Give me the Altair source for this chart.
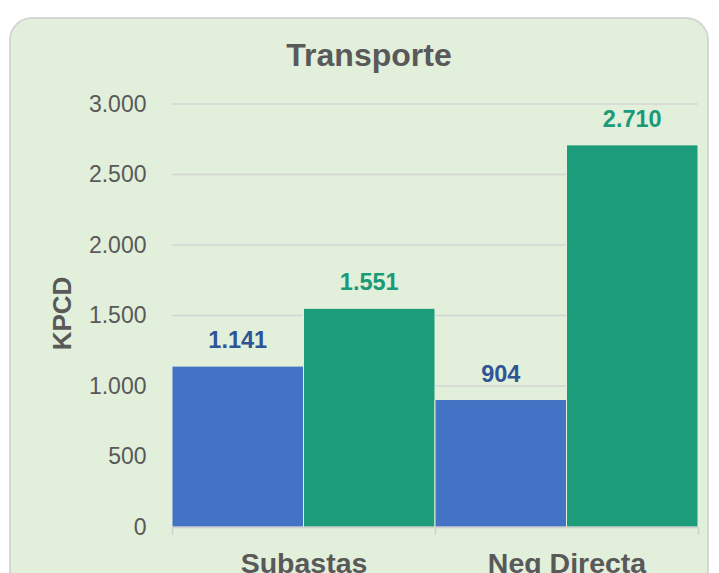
import altair as alt
import pandas as pd

categories = ["Subastas", "Neg Directa"]
series = ["Serie 1", "Serie 2"]
values_s1 = [1141, 904]
values_s2 = [1551, 2710]
y_ticks = [0, 500, 1000, 1500, 2000, 2500, 3000]

rows = []
for i, c in enumerate(categories):
    rows.append({"cat": c, "serie": series[0], "val": values_s1[i]})
    rows.append({"cat": c, "serie": series[1], "val": values_s2[i]})
df = pd.DataFrame(rows)
grid_df = pd.DataFrame({"g": y_ticks})

BG = "#E2EFDA"
GRAY = "#595959"
FONT = "Liberation Sans"

x_enc = alt.X(
    "cat:N",
    sort=categories,
    scale=alt.Scale(paddingInner=0, paddingOuter=0),
    axis=alt.Axis(
        title=None,
        labelAngle=0,
        labelFont=FONT,
        labelFontSize=28.5,
        labelFontWeight="bold",
        labelColor=GRAY,
        labelPadding=15,
        domainColor="#D0D0D0",
        domainWidth=1.5,
        tickColor="#D0D0D0",
        tickWidth=1.5,
        tickSize=7,
        tickBand="extent",
        grid=False,
        zindex=1,
    ),
)
xo_enc = alt.XOffset("serie:N", sort=series, scale=alt.Scale(paddingInner=0, paddingOuter=0))
y_scale = alt.Scale(domain=[0, 3000], nice=False)
y_enc = alt.Y(
    "val:Q",
    scale=y_scale,
    axis=alt.Axis(
        values=y_ticks,
        labelExpr="replace(format(datum.value, ','), ',', '.')",
        labelFont=FONT,
        labelFontSize=23,
        labelColor=GRAY,
        labelPadding=26,
        ticks=False,
        domain=False,
        grid=False,
        title="KPCD",
        titleFont=FONT,
        titleFontSize=26,
        titleFontWeight="bold",
        titleColor=GRAY,
        titleAngle=-90,
        titleAlign="center",
        titleBaseline="middle",
        titleX=-110,
        titleY=209,
        zindex=1,
    ),
)

panel = alt.Chart(pd.DataFrame({"p": [0]})).mark_rect(
    fill=BG, stroke="#D6D6D6", strokeWidth=2, cornerRadius=22
).encode(
    x=alt.value(-162), x2=alt.value(536), y=alt.value(-86), y2=alt.value(560)
)

grid = alt.Chart(grid_df).mark_rule(color="#D4D4D4", strokeWidth=1.5).encode(
    y=alt.Y("g:Q", scale=y_scale),
    x=alt.value(0),
    x2=alt.value(526),
)

bars = alt.Chart(df).mark_bar(stroke=BG, strokeWidth=1).encode(
    x=x_enc,
    xOffset=xo_enc,
    y=y_enc,
    color=alt.Color("serie:N", scale=alt.Scale(domain=series, range=["#4472C4", "#1C9C7B"]), legend=None),
)

labels = alt.Chart(df).transform_calculate(
    lbl="replace(format(datum.val, ','), ',', '.')"
).mark_text(
    baseline="alphabetic", dy=-18, font=FONT, fontSize=23.5, fontWeight="bold"
).encode(
    x=alt.X("cat:N", sort=categories),
    xOffset=alt.XOffset("serie:N", sort=series),
    y=alt.Y("val:Q"),
    text="lbl:N",
    color=alt.Color("serie:N", scale=alt.Scale(domain=series, range=["#2F5597", "#1A9A78"]), legend=None),
)

chart = alt.layer(panel, grid, bars, labels).resolve_scale(color="independent").properties(
    width=526,
    height=423,
    title=alt.TitleParams(
        "Transporte",
        font=FONT,
        fontSize=32,
        fontWeight="bold",
        color=GRAY,
        anchor="middle",
        frame="group",
        dx=-66,
        offset=-56,
    ),
    padding={"left": 164, "top": 96, "right": 13, "bottom": 46},
    autosize=alt.AutoSizeParams(type="none"),
    background="white",
).configure_view(stroke=None)

chart.save("out.html", embed_options={"renderer": "svg", "actions": False})
